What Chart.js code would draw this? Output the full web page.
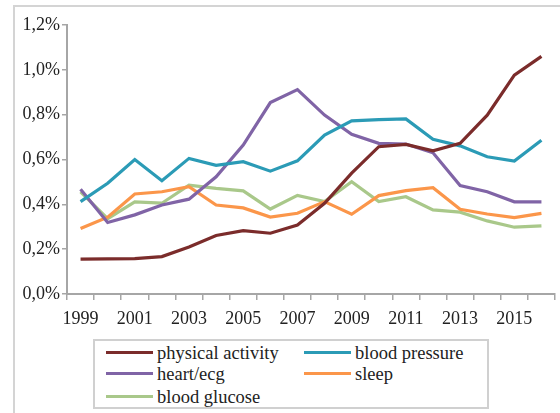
<!DOCTYPE html>
<html>
<head>
<meta charset="utf-8">
<script src="https://cdn.jsdelivr.net/npm/chart.js@4/dist/chart.umd.min.js"></script>
<style>
  html, body { margin: 0; padding: 0; background: #fff; width: 560px; height: 413px; overflow: hidden; }
  #frame { position: absolute; left: 13px; top: 5px; width: 600px; height: 500px; border: 2px solid #d4d4d4; box-sizing: border-box; }
  #wrap { position: absolute; left: 0; top: 0; width: 560px; height: 330px; }
  #legend { position: absolute; left: 93px; top: 339px; width: 396px; height: 70px; border: 2px solid #d0d0d0; box-sizing: border-box; font-family: "Liberation Serif", "Times New Roman", serif; font-size: 18.5px; color: #222; }
  .item { position: absolute; height: 22px; line-height: 22px; white-space: nowrap; }
  .swatch { position: absolute; top: 9px; width: 47px; height: 3px; }
  .lbl { position: absolute; left: 51px; top: 0; }
</style>
</head>
<body>
<div id="frame"></div>
<div id="wrap"><canvas id="c" width="560" height="330"></canvas></div>
<div id="legend"></div>
<script>
const years = ['1999','2000','2001','2002','2003','2004','2005','2006','2007','2008','2009','2010','2011','2012','2013','2014','2015','2016'];
const seriesNames = ['physical activity', 'blood pressure', 'heart/ecg', 'sleep', 'blood glucose'];
const physicalActivity = [0.156,0.157,0.158,0.167,0.210,0.261,0.283,0.271,0.308,0.405,0.539,0.657,0.667,0.639,0.672,0.798,0.976,1.060];
const bloodPressure    = [0.412,0.494,0.600,0.505,0.605,0.574,0.590,0.548,0.594,0.709,0.772,0.778,0.781,0.690,0.661,0.612,0.593,0.686];
const heartEcg         = [0.467,0.319,0.353,0.397,0.423,0.523,0.664,0.854,0.912,0.798,0.712,0.672,0.669,0.630,0.484,0.456,0.411,0.411];
const sleep            = [0.292,0.343,0.446,0.456,0.479,0.397,0.384,0.343,0.360,0.412,0.356,0.439,0.461,0.474,0.378,0.357,0.341,0.360];
const bloodGlucose     = [0.456,0.336,0.411,0.405,0.485,0.471,0.460,0.379,0.440,0.412,0.501,0.412,0.434,0.375,0.365,0.326,0.298,0.304];
const yTicks = [0, 0.2, 0.4, 0.6, 0.8, 1.0, 1.2];

const colors = ['#7b2c2b', '#2b9bb6', '#8064a6', '#fb964a', '#a9c88a'];
const allSeries = [physicalActivity, bloodPressure, heartEcg, sleep, bloodGlucose];
const serif = '"Liberation Serif", "Times New Roman", serif';

const datasets = allSeries.map((d, i) => ({
  label: seriesNames[i],
  data: d,
  borderColor: colors[i],
  backgroundColor: colors[i],
  borderWidth: 3.2,
  pointRadius: 0,
  tension: 0,
  fill: false
}));

new Chart(document.getElementById('c'), {
  type: 'line',
  data: { labels: years, datasets },
  options: {
    responsive: false,
    animation: false,
    devicePixelRatio: 1,
    layout: { padding: { left: 0, right: 5, top: 25, bottom: 0 } },
    plugins: { legend: { display: false }, tooltip: { enabled: false } },
    scales: {
      x: {
        offset: true,
        grid: { offset: true, drawOnChartArea: false, drawTicks: true, tickLength: 6, color: '#a6a6a6', lineWidth: 1.5 },
        border: { display: true, color: '#a6a6a6', width: 2 },
        ticks: {
          autoSkip: false, maxRotation: 0, minRotation: 0, padding: 8,
          color: '#222', font: { family: serif, size: 18 },
          callback: function(v, i) { return i % 2 === 0 ? years[i] : ''; }
        },
        afterFit: function(s) { s.height = 36; }
      },
      y: {
        min: 0, max: 1.2,
        afterBuildTicks: function(s) { s.ticks = yTicks.map(v => ({ value: v })); },
        grid: { drawOnChartArea: false, drawTicks: true, tickLength: 5, color: '#a6a6a6', lineWidth: 1.5 },
        border: { display: true, color: '#a6a6a6', width: 2 },
        ticks: {
          padding: 2, color: '#222', font: { family: serif, size: 18 },
          callback: function(v) { return v.toFixed(1).replace('.', ',') + '%'; }
        },
        afterFit: function(s) { s.width = 67; }
      }
    }
  }
});

// HTML legend built from the series arrays
const legend = document.getElementById('legend');
const pos = [[11, 0], [209, 0], [11, 1], [209, 1], [11, 2]];
const rowTops = [1, 22, 45];
seriesNames.forEach((name, i) => {
  const it = document.createElement('div');
  it.className = 'item';
  it.style.left = pos[i][0] + 'px';
  it.style.top = rowTops[pos[i][1]] + 'px';
  const sw = document.createElement('span');
  sw.className = 'swatch';
  sw.style.background = colors[i];
  const tx = document.createElement('span');
  tx.className = 'lbl';
  tx.textContent = name;
  it.appendChild(sw); it.appendChild(tx);
  legend.appendChild(it);
});
</script>
</body>
</html>
